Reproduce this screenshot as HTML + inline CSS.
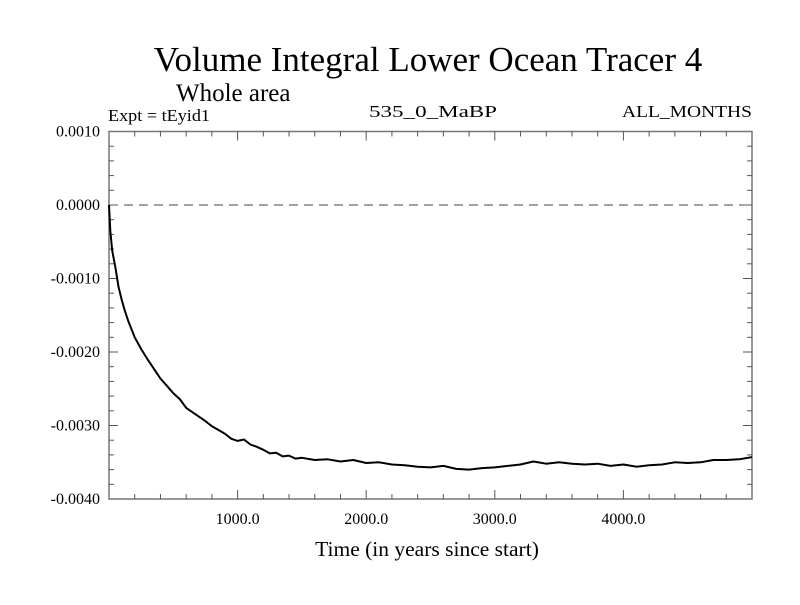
<!DOCTYPE html>
<html><head><meta charset="utf-8"><style>
body{margin:0;background:#fff}
svg text{font-family:"Liberation Serif",serif;fill:#000}
.tk{font-family:"Liberation Serif",serif;font-size:16px}
</style></head><body>
<svg id="c" width="800" height="600">
<text x="428" y="71" font-size="35" text-anchor="middle">Volume Integral Lower Ocean Tracer 4</text>
<text x="176" y="101" font-size="25">Whole area</text>
<text x="108" y="121" font-size="17" textLength="102" lengthAdjust="spacingAndGlyphs">Expt = tEyid1</text>
<text x="369" y="117" font-size="17" textLength="128" lengthAdjust="spacingAndGlyphs">535_0_MaBP</text>
<text x="622" y="117" font-size="17" textLength="130" lengthAdjust="spacingAndGlyphs">ALL_MONTHS</text>
<text x="427" y="556" font-size="21.5" text-anchor="middle">Time (in years since start)</text>
<g id="ax"></g>
<path id="ln" fill="none" stroke="#000" stroke-width="2" stroke-linejoin="round"></path>
</svg>
<script>
const years=[0,10,25,50,75,100,125,150,200,250,300,350,400,450,500,550,600,650,700,750,800,850,900,950,1000,1050,1100,1150,1200,1250,1300,1350,1400,1450,1500,1600,1700,1800,1900,2000,2100,2200,2300,2400,2500,2600,2700,2800,2900,3000,3100,3200,3300,3400,3500,3600,3700,3800,3900,4000,4100,4200,4300,4400,4500,4600,4700,4800,4900,5000];
const values=[0,-0.00035,-0.00062,-0.00085,-0.00112,-0.00130,-0.00145,-0.00158,-0.00180,-0.00196,-0.00210,-0.00223,-0.00236,-0.00246,-0.00256,-0.00264,-0.00276,-0.00282,-0.00288,-0.00294,-0.00301,-0.00306,-0.00311,-0.00318,-0.00321,-0.00319,-0.00326,-0.00329,-0.00333,-0.00338,-0.00337,-0.00342,-0.00341,-0.00345,-0.00344,-0.00347,-0.00346,-0.00349,-0.00347,-0.00351,-0.00350,-0.00353,-0.00354,-0.00356,-0.00357,-0.00355,-0.00359,-0.00360,-0.00358,-0.00357,-0.00355,-0.00353,-0.00349,-0.00352,-0.00350,-0.00352,-0.00353,-0.00352,-0.00355,-0.00353,-0.00356,-0.00354,-0.00353,-0.00350,-0.00351,-0.00350,-0.00347,-0.00347,-0.00346,-0.00343];
const yTicks=[0.001,0,-0.001,-0.002,-0.003,-0.004];
const yLabels=["0.0010","0.0000","-0.0010","-0.0020","-0.0030","-0.0040"];
const xTicks=[1000,2000,3000,4000];
const xLabels=["1000.0","2000.0","3000.0","4000.0"];
const L=109,R=752,T=131.5,B=499;
const X=t=>L+(t/5000)*(R-L);
const Y=v=>T+(0.001-v)/0.005*(B-T);
const ns="http://www.w3.org/2000/svg",ax=document.getElementById('ax');
function mk(tag,a){const e=document.createElementNS(ns,tag);for(const k in a)e.setAttribute(k,a[k]);ax.appendChild(e);return e;}
const fr=mk('rect',{x:L,y:T,width:R-L,height:B-T,fill:'none',stroke:'#777','stroke-width':1.5});


const zl=mk('line',{x1:L,x2:R,y1:Y(0),y2:Y(0),stroke:'#444','stroke-width':1,'stroke-dasharray':'9,6'});


for(let t=200;t<5000;t+=200){const maj=t%1000===0,h=maj?9:5;
mk('line',{x1:X(t),x2:X(t),y1:B,y2:B-h,stroke:'#555'});mk('line',{x1:X(t),x2:X(t),y1:T,y2:T+h,stroke:'#555'});}
for(let i=1;i<25;i++){const v=0.001-i*0.0002,maj=i%5===0,h=maj?9:5;
mk('line',{x1:L,x2:L+h,y1:Y(v),y2:Y(v),stroke:'#555'});mk('line',{x1:R,x2:R-h,y1:Y(v),y2:Y(v),stroke:'#555'});}
yTicks.forEach((v,i)=>{const e=mk('text',{x:L-9,y:Y(v)+5,'text-anchor':'end',class:'tk'});e.textContent=yLabels[i];

});
xTicks.forEach((t,i)=>{const e=mk('text',{x:X(t),y:524,'text-anchor':'middle',class:'tk'});e.textContent=xLabels[i];

});
document.getElementById('ln').setAttribute('d',years.map((t,i)=>(i?'L':'M')+X(t).toFixed(1)+','+Y(values[i]).toFixed(1)).join(''));
</script>
</body></html>
